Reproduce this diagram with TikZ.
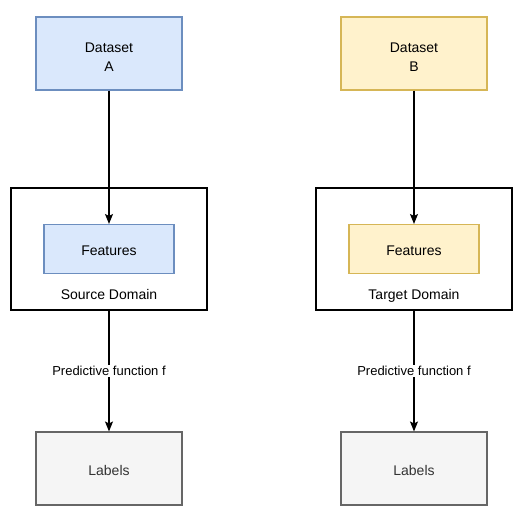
\documentclass[tikz,border=0pt]{standalone}
\usepackage{fontspec}
\setmainfont{Liberation Sans}
\usepackage{tikz}
\usetikzlibrary{arrows.meta}
\usetikzlibrary{positioning}
\definecolor{bluefill}{HTML}{DAE8FC}
\definecolor{bluedraw}{HTML}{6C8EBF}
\definecolor{yellowfill}{HTML}{FFF2CC}
\definecolor{yellowdraw}{HTML}{D6B656}
\definecolor{greyfill}{HTML}{F5F5F5}
\definecolor{greydraw}{HTML}{666666}
\definecolor{greytext}{HTML}{333333}
\tikzset{>={Stealth[length=10pt,width=8pt,inset=2pt]}}
\tikzset{
    plainbox/.style = {draw, line width=1.1pt, inner sep=0pt, align=center, font=\fontsize{14}{19}\selectfont, text height=14pt},
    datasetbox/.style = {plainbox, minimum width=146pt, minimum height=73pt, text height=35pt},
    featurebox/.style = {plainbox, minimum width=130pt, minimum height=49pt},
    domainbox/.style = {plainbox, draw=black, minimum width=196pt, minimum height=122pt},
    labelbox/.style = {plainbox, fill=greyfill, draw=greydraw, text=greytext, minimum width=146pt, minimum height=73pt},
    bluebox/.style = {fill=bluefill, draw=bluedraw},
    yellowbox/.style = {fill=yellowfill, draw=yellowdraw},
    domname/.style = {font=\fontsize{14}{17}\selectfont, inner sep=0pt, text height=9pt, text depth=4pt},
    flow/.style = {->, line width=1.1pt},
    func/.style = {fill=white, font=\fontsize{13}{15}\selectfont, inner sep=1pt},
}
\begin{document}
\begin{tikzpicture}[x=1pt,y=-1pt,node distance=195.5pt and 305pt,on grid]
\useasboundingbox (0,0) rectangle (523,520);
% source side
\node[datasetbox, bluebox] (dsA) at (109,53.5) {Dataset\\A};
\node[domainbox] (domA) [below=of dsA] {};
\node[featurebox, bluebox] (featA) at (domA) {Features};
\node[domname] (srcname) [below=48pt of domA] {Source Domain};
\node[labelbox] (lblA) [below=219.5pt of domA] {Labels};
% target side
\node[datasetbox, yellowbox] (dsB) [right=of dsA] {Dataset\\B};
\node[domainbox] (domB) [right=of domA] {};
\node[featurebox, yellowbox] (featB) [right=of featA] {Features};
\node[domname] (tgtname) [right=of srcname] {Target Domain};
\node[labelbox] (lblB) [right=of lblA] {Labels};
% connectors
\draw[flow] (dsA) -- (featA);
\draw[flow] (dsB) -- (featB);
\draw[flow] (domA) -- node[func] {Predictive function f} (lblA);
\draw[flow] (domB) -- node[func] {Predictive function f} (lblB);
\end{tikzpicture}
\end{document}
